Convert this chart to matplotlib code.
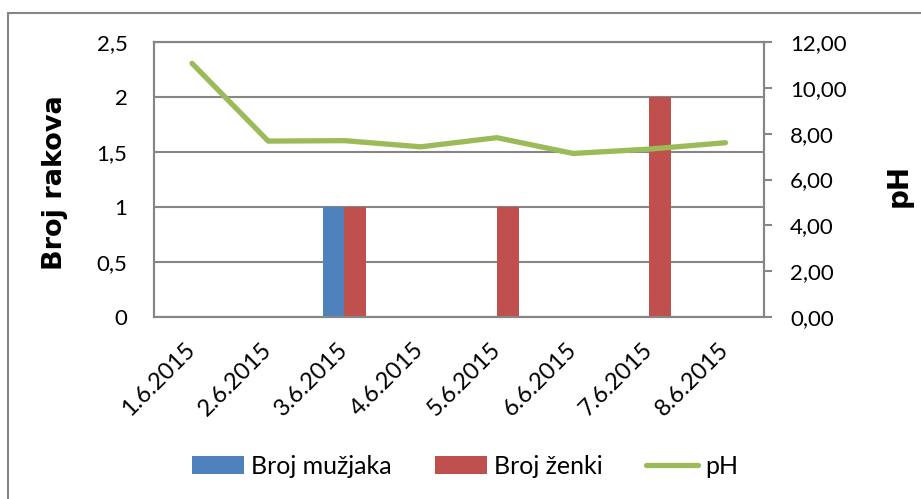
import numpy as np
import matplotlib
matplotlib.use('Agg')
import matplotlib.pyplot as plt
from matplotlib.patches import Rectangle

# data
dates = ['1.6.2015', '2.6.2015', '3.6.2015', '4.6.2015',
         '5.6.2015', '6.6.2015', '7.6.2015', '8.6.2015']
males = [0, 0, 1, 0, 0, 0, 0, 0]
females = [0, 0, 1, 0, 1, 0, 2, 0]
ph = [11.08, 7.68, 7.70, 7.43, 7.83, 7.14, 7.33, 7.61]

left_ticks = [0, 0.5, 1, 1.5, 2, 2.5]
right_ticks = [0, 2, 4, 6, 8, 10, 12]

blue = '#4F81BD'
red = '#C0504D'
green = '#9BBB59'
grey = '#868686'

plt.rcParams['font.family'] = ['Lato', 'DejaVu Sans']

fig = plt.figure(figsize=(9.21, 4.99), dpi=100)
ax = fig.add_axes([0.1671, 0.3653, 0.662, 0.5499])
ax2 = ax.twinx()

x = np.arange(len(dates))
w = 1 / 3.5
ax.bar(x - w / 2, males, w, color=blue, label='Broj mužjaka', zorder=2)
ax.bar(x + w / 2, females, w, color=red, label='Broj ženki', zorder=2)
ax2.plot(x, ph, color=green, lw=3.8, solid_capstyle='round',
         solid_joinstyle='round', label='pH')

ax.set_xlim(-0.5, len(dates) - 0.5)
ax.set_ylim(0, 2.5)
ax2.set_ylim(0, 12)

ax.set_yticks(left_ticks)
ax.set_yticklabels([('%g' % t).replace('.', ',') for t in left_ticks])
ax2.set_yticks(right_ticks)
ax2.set_yticklabels([('%.2f' % t).replace('.', ',') for t in right_ticks])

ax.set_xticks(x)
ax.set_xticklabels(dates, rotation=45, ha='right', va='center',
                   rotation_mode='anchor')

ax.yaxis.grid(True, color=grey, lw=1.5, zorder=0)
ax.set_axisbelow(True)

for a in (ax, ax2):
    for s in a.spines.values():
        s.set_color(grey)
        s.set_linewidth(1.5)

ax.tick_params(axis='y', length=0, pad=19, labelsize=16)
ax.tick_params(axis='x', length=0, pad=21, labelsize=17)
ax2.tick_params(axis='y', length=6, width=1.5, color=grey, pad=13, labelsize=16)

ax.set_ylabel('Broj rakova', family='DejaVu Sans', fontweight='bold', fontsize=19.5)
ax.yaxis.set_label_coords(-0.141, 0.49)
ax2.set_ylabel('pH', family='DejaVu Sans', fontweight='bold', fontsize=20,
               rotation=90)
ax2.yaxis.set_label_coords(1.198, 0.48)

h1, l1 = ax.get_legend_handles_labels()
h2, l2 = ax2.get_legend_handles_labels()
fig.legend(h1 + h2, l1 + l2, loc='center', bbox_to_anchor=(0.505, 0.065),
           ncol=3, frameon=False, fontsize=18, handlelength=2.1,
           handleheight=0.72, handletextpad=0.28, columnspacing=1.72)

# outer chart border
fig.add_artist(Rectangle((0.0087, -0.2), 1.2, 1.174, transform=fig.transFigure,
                         fill=False, ec=grey, lw=1.5))

fig.savefig('out.png', dpi=100)
